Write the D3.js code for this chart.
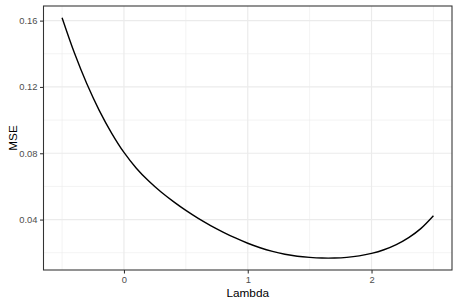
<!DOCTYPE html>
<html>
<head>
<meta charset="utf-8">
<script src="https://cdn.jsdelivr.net/npm/d3@7"></script>
<style>
  body { margin: 0; background: #fff; }
  svg text { font-family: "Liberation Sans", Arial, sans-serif; }
</style>
</head>
<body>
<div id="chart"></div>
<script>
// values
const lambda = [-0.5, -0.4, -0.3, -0.2, -0.1, 0, 0.1, 0.2, 0.3, 0.4, 0.5, 0.6, 0.7, 0.8, 0.9, 1.0,
  1.1, 1.2, 1.3, 1.4, 1.5, 1.6, 1.7, 1.8, 1.9, 2.0, 2.1, 2.2, 2.3, 2.4, 2.5];
const mse = [0.1617, 0.1404, 0.1219, 0.1059, 0.0922, 0.0805, 0.0710, 0.0632, 0.0566, 0.0508, 0.0455,
  0.0407, 0.0364, 0.0325, 0.0289, 0.0257, 0.0230, 0.0208, 0.0191, 0.0179, 0.0172, 0.0168, 0.0168,
  0.0172, 0.0181, 0.0196, 0.0218, 0.0249, 0.0291, 0.0347, 0.0423];
const xTicks = [0, 1, 2];
const xMinor = [-0.5, 0.5, 1.5, 2.5];
const yTicks = [0.04, 0.08, 0.12, 0.16];
const yMinor = [0.02, 0.06, 0.10, 0.14];

var width = 457
var height = 305
var margin = {top: 6, right: 5, bottom: 35, left: 43.5}

var svg = d3.select("#chart")
  .append("svg")
    .attr("width", width)
    .attr("height", height)

var x = d3.scaleLinear()
  .domain([-0.65, 2.65])
  .range([margin.left, width - margin.right])

var y = d3.scaleLinear()
  .domain([0.00958, 0.16882])
  .range([height - margin.bottom, margin.top])

var grid = svg.append("g")

// minor grid
grid.selectAll(".xminor").data(xMinor).enter().append("line")
  .attr("x1", d => x(d)).attr("x2", d => x(d))
  .attr("y1", margin.top).attr("y2", height - margin.bottom)
  .attr("stroke", "#ebebeb").attr("stroke-width", 0.6)
grid.selectAll(".yminor").data(yMinor).enter().append("line")
  .attr("y1", d => y(d)).attr("y2", d => y(d))
  .attr("x1", margin.left).attr("x2", width - margin.right)
  .attr("stroke", "#ebebeb").attr("stroke-width", 0.6)

// major grid
grid.selectAll(".xmajor").data(xTicks).enter().append("line")
  .attr("x1", d => x(d)).attr("x2", d => x(d))
  .attr("y1", margin.top).attr("y2", height - margin.bottom)
  .attr("stroke", "#ebebeb").attr("stroke-width", 1.2)
grid.selectAll(".ymajor").data(yTicks).enter().append("line")
  .attr("y1", d => y(d)).attr("y2", d => y(d))
  .attr("x1", margin.left).attr("x2", width - margin.right)
  .attr("stroke", "#ebebeb").attr("stroke-width", 1.2)

// the curve
var line = d3.line()
  .x((d, i) => x(lambda[i]))
  .y(d => y(d))
  .curve(d3.curveCatmullRom)

svg.append("path")
  .datum(mse)
  .attr("d", line)
  .attr("fill", "none")
  .attr("stroke", "black")
  .attr("stroke-width", 1.4)

// panel border
svg.append("rect")
  .attr("x", margin.left)
  .attr("y", margin.top)
  .attr("width", width - margin.right - margin.left)
  .attr("height", height - margin.bottom - margin.top)
  .attr("fill", "none")
  .attr("stroke", "#333333")
  .attr("stroke-width", 1.07)

// axes
var xAxis = svg.append("g")
  .attr("transform", "translate(0," + (height - margin.bottom) + ")")
  .call(d3.axisBottom(x).tickValues(xTicks).tickSize(3.5).tickPadding(2.5).tickFormat(d3.format("d")))
xAxis.select(".domain").remove()

var yAxis = svg.append("g")
  .attr("transform", "translate(" + margin.left + ",0)")
  .call(d3.axisLeft(y).tickValues(yTicks).tickSize(3.5).tickPadding(2.5).tickFormat(d3.format(".2f")))
yAxis.select(".domain").remove()

svg.selectAll(".tick line").attr("stroke", "#333333").attr("stroke-width", 1.07)
svg.selectAll(".tick text")
  .attr("fill", "#4d4d4d")
  .style("font-size", "9.4px")
  .style("font-family", "Liberation Sans, Arial, sans-serif")

// axis titles
svg.append("text")
  .attr("x", (margin.left + width - margin.right) / 2)
  .attr("y", 297)
  .attr("text-anchor", "middle")
  .attr("fill", "black")
  .style("font-size", "11.8px")
  .text("Lambda")

svg.append("text")
  .attr("transform", "translate(16.5," + ((margin.top + height - margin.bottom) / 2) + ") rotate(-90)")
  .attr("text-anchor", "middle")
  .attr("fill", "black")
  .style("font-size", "11.8px")
  .text("MSE")
</script>
</body>
</html>
